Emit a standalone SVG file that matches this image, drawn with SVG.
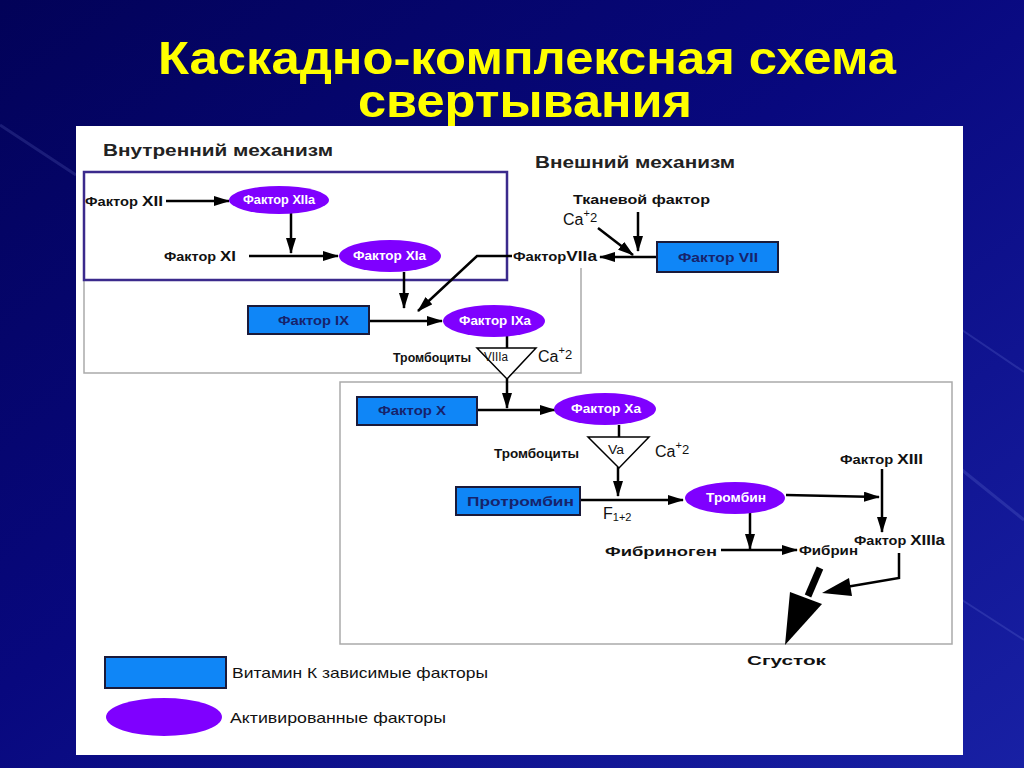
<svg xmlns="http://www.w3.org/2000/svg" width="1024" height="768" viewBox="0 0 1024 768">
<defs>
<linearGradient id="bg" x1="0" y1="0" x2="1" y2="1">
<stop offset="0" stop-color="#020258"/>
<stop offset="0.45" stop-color="#08087e"/>
<stop offset="1" stop-color="#1820a4"/>
</linearGradient>
<marker id="ah" viewBox="0 0 16 10" refX="15" refY="5" markerWidth="16" markerHeight="10" markerUnits="userSpaceOnUse" orient="auto">
<path d="M0,0 L16,5 L0,10 Z" fill="#000"/>
</marker>
<style>
text{font-family:"Liberation Sans",Arial,sans-serif;}
.title{font-weight:bold;font-size:46px;fill:#ffff00;}
.hdr{font-weight:bold;font-size:16px;fill:#222;}
.lbl{font-weight:bold;font-size:12px;fill:#111;}
.big{font-size:14px;}
.norm{font-size:16px;fill:#111;}
.rect{fill:#0f86f7;stroke:#1a1a3a;stroke-width:2;}
.rt{font-weight:bold;font-size:13px;fill:#17236b;}
.ell{fill:#7f00ff;}
.et{font-weight:bold;font-size:12px;fill:#fff;}
.c{fill:none;stroke:#000;stroke-width:2.5;}
.tri{fill:#fff;stroke:#000;stroke-width:1.5;}
.leg{font-size:15px;fill:#111;}
</style>
</defs>
<rect width="1024" height="768" fill="url(#bg)"/>
<g opacity="0.15" stroke="#9fb0ff" fill="none">
<path d="M962,330 L1024,372" stroke-width="2"/>
<path d="M962,470 L1024,520" stroke-width="3"/>
<path d="M962,600 L1024,640" stroke-width="2"/>
<path d="M0,125 L76,175" stroke-width="3"/>
</g>
<text class="title" x="158" y="74" textLength="738" lengthAdjust="spacingAndGlyphs">Каскадно-комплексная схема</text>
<text class="title" x="358" y="117" textLength="334" lengthAdjust="spacingAndGlyphs">свертывания</text>
<rect x="76" y="126" width="887" height="629" fill="#fff"/>

<g id="frames" fill="none">
<polyline points="84,280 84,373 581,373 581,268" stroke="#aaa" stroke-width="1.5"/>
<rect x="340" y="382" width="612" height="262" stroke="#aaa" stroke-width="1.5"/>
<rect x="84" y="172" width="423" height="108" stroke="#3b2a8c" stroke-width="2.5"/>
</g>

<text class="hdr" x="103" y="156" textLength="230" lengthAdjust="spacingAndGlyphs">Внутренний механизм</text>
<text class="hdr" x="535" y="168" textLength="200" lengthAdjust="spacingAndGlyphs">Внешний механизм</text>

<g id="connectors">
<line class="c" x1="166" y1="201" x2="229" y2="201" marker-end="url(#ah)"/>
<line class="c" x1="291" y1="213" x2="291" y2="253" marker-end="url(#ah)"/>
<line class="c" x1="249" y1="256" x2="338" y2="256" marker-end="url(#ah)"/>
<line class="c" x1="404" y1="272" x2="404" y2="308" marker-end="url(#ah)"/>
<polyline class="c" points="512,256 477,256 418,311" marker-end="url(#ah)"/>
<line class="c" x1="369" y1="321" x2="442" y2="321" marker-end="url(#ah)"/>
<line class="c" x1="507" y1="336" x2="507" y2="348"/>
<line class="c" x1="507" y1="379" x2="507" y2="408" marker-end="url(#ah)"/>
<line class="c" x1="477" y1="410" x2="555" y2="410" marker-end="url(#ah)"/>
<line class="c" x1="619" y1="425" x2="619" y2="437"/>
<line class="c" x1="618" y1="467" x2="618" y2="496" marker-end="url(#ah)"/>
<line class="c" x1="580" y1="500" x2="683" y2="500" marker-end="url(#ah)"/>
<line class="c" x1="786" y1="495" x2="879" y2="497" marker-end="url(#ah)"/>
<line class="c" x1="882" y1="469" x2="882" y2="532" marker-end="url(#ah)"/>
<line class="c" x1="750" y1="513" x2="750" y2="549" marker-end="url(#ah)"/>
<line class="c" x1="721" y1="550" x2="797" y2="550" marker-end="url(#ah)"/>
<line x1="820" y1="568" x2="808" y2="596" stroke="#000" stroke-width="7"/>
<path d="M790,592 L822,604 L785,645 Z" fill="#000"/>
<polyline class="c" points="899,553 899,578 846,587" stroke-width="3.5"/>
<path d="M849,578 L822,593 L852,596 Z" fill="#000"/>
<line class="c" x1="638" y1="212" x2="638" y2="251" marker-end="url(#ah)"/>
<line class="c" x1="598" y1="228" x2="633" y2="255" marker-end="url(#ah)"/>
<line class="c" x1="657" y1="257" x2="600" y2="257" marker-end="url(#ah)"/>
</g>

<g id="n-xii"><text class="lbl" x="85" y="206" textLength="78" lengthAdjust="spacingAndGlyphs">Фактор <tspan class="big">XII</tspan></text></g>
<g id="n-xiia"><ellipse class="ell" cx="279" cy="200" rx="50" ry="14"/><text class="et" x="243" y="204" textLength="72" lengthAdjust="spacingAndGlyphs">Фактор XIIa</text></g>
<g id="n-xi"><text class="lbl" x="164" y="261" textLength="72" lengthAdjust="spacingAndGlyphs">Фактор <tspan class="big">XI</tspan></text></g>
<g id="n-xia"><ellipse class="ell" cx="390" cy="256" rx="51" ry="16"/><text class="et" x="353" y="260" textLength="73" lengthAdjust="spacingAndGlyphs">Фактор XIa</text></g>
<g id="n-viia"><text class="lbl" x="513" y="261" textLength="84" lengthAdjust="spacingAndGlyphs">Фактор<tspan class="big">VIIa</tspan></text></g>
<g id="n-ix"><rect class="rect" x="248" y="306" width="121" height="28"/><text class="rt" x="278" y="325" textLength="71" lengthAdjust="spacingAndGlyphs">Фактор IX</text></g>
<g id="n-ixa"><ellipse class="ell" cx="494" cy="321" rx="51" ry="16"/><text class="et" x="459" y="325" textLength="72" lengthAdjust="spacingAndGlyphs">Фактор IXa</text></g>
<g id="n-viiia"><polygon class="tri" points="477,348 536,348 507,379"/><text x="484" y="361" font-size="12" fill="#111" textLength="24" lengthAdjust="spacingAndGlyphs">VIIIa</text>
<text class="lbl" x="393" y="362" font-size="11" textLength="78" lengthAdjust="spacingAndGlyphs">Тромбоциты</text>
<text class="norm" x="538" y="362">Ca<tspan font-size="11" dy="-8">+</tspan><tspan font-size="13" dy="5">2</tspan></text></g>
<g id="n-tf"><text class="lbl" x="573" y="204" font-size="13" textLength="137" lengthAdjust="spacingAndGlyphs">Тканевой фактор</text>
<text class="norm" x="563" y="225">Ca<tspan font-size="11" dy="-8">+</tspan><tspan font-size="13" dy="5">2</tspan></text></g>
<g id="n-vii"><rect class="rect" x="657" y="242" width="121" height="30"/><text class="rt" x="678" y="262" textLength="80" lengthAdjust="spacingAndGlyphs">Фактор VII</text></g>
<g id="n-x"><rect class="rect" x="357" y="397" width="120" height="28"/><text class="rt" x="378" y="415" textLength="68" lengthAdjust="spacingAndGlyphs">Фактор X</text></g>
<g id="n-xa"><ellipse class="ell" cx="605" cy="409" rx="51" ry="16"/><text class="et" x="571" y="413" textLength="70" lengthAdjust="spacingAndGlyphs">Фактор Xa</text></g>
<g id="n-va"><polygon class="tri" points="588,437 649,437 619,468"/><text x="608" y="454" font-size="12" fill="#111" textLength="16" lengthAdjust="spacingAndGlyphs">Va</text>
<text class="lbl" x="494" y="458" font-size="11" textLength="85" lengthAdjust="spacingAndGlyphs">Тромбоциты</text>
<text class="norm" x="655" y="457">Ca<tspan font-size="11" dy="-8">+</tspan><tspan font-size="13" dy="5">2</tspan></text></g>
<g id="n-pt"><rect class="rect" x="456" y="487" width="124" height="28"/><text class="rt" x="467" y="506" font-size="15" textLength="107" lengthAdjust="spacingAndGlyphs">Протромбин</text></g>
<g id="n-f12"><text class="norm" x="603" y="519">F<tspan font-size="11" dy="2">1+2</tspan></text></g>
<g id="n-th"><ellipse class="ell" cx="735" cy="498" rx="50" ry="16"/><text class="et" x="706" y="502" textLength="60" lengthAdjust="spacingAndGlyphs">Тромбин</text></g>
<g id="n-xiii"><text class="lbl" x="840" y="464" textLength="83" lengthAdjust="spacingAndGlyphs">Фактор <tspan class="big">XIII</tspan></text></g>
<g id="n-xiiia"><text class="lbl" x="854" y="545" textLength="91" lengthAdjust="spacingAndGlyphs">Фактор <tspan class="big">XIIIa</tspan></text></g>
<g id="n-fg"><text class="lbl" x="605" y="556" font-size="18" textLength="112" lengthAdjust="spacingAndGlyphs">Фибриноген</text></g>
<g id="n-fb"><text class="lbl" x="799" y="555" font-size="13" textLength="59" lengthAdjust="spacingAndGlyphs">Фибрин</text></g>
<g id="n-clot"><text class="lbl" x="747" y="665" font-size="20" textLength="79" lengthAdjust="spacingAndGlyphs">Сгусток</text></g>

<g id="legend">
<rect class="rect" x="105" y="657" width="121" height="31"/>
<text class="leg" x="232" y="678" textLength="256" lengthAdjust="spacingAndGlyphs">Витамин К зависимые факторы</text>
<ellipse class="ell" cx="164" cy="717" rx="58" ry="19"/>
<text class="leg" x="230" y="723" textLength="216" lengthAdjust="spacingAndGlyphs">Активированные факторы</text>
</g>
</svg>
